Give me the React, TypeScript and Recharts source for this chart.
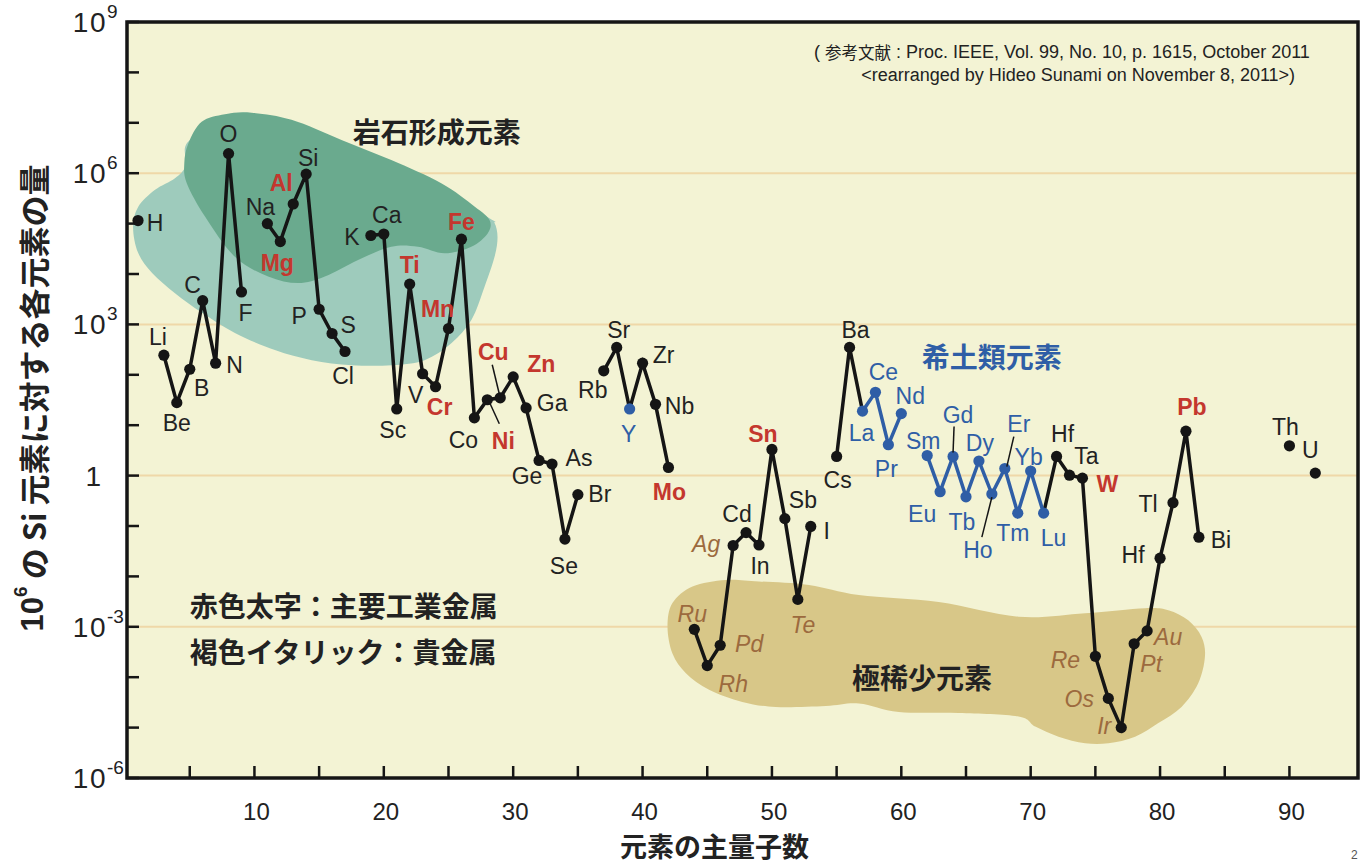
import React from 'react'
import { ComposedChart, Line, Scatter, XAxis, YAxis, ReferenceArea, Label } from 'recharts'

// element symbols as printed on the chart (Z=80 is printed "Hf" in the original)
const symbols = [
  'H', 'Li', 'Be', 'B', 'C', 'N', 'O', 'F',
  'Na', 'Mg', 'Al', 'Si', 'P', 'S', 'Cl',
  'K', 'Ca', 'Sc', 'Ti', 'V', 'Cr', 'Mn', 'Fe', 'Co', 'Ni', 'Cu', 'Zn', 'Ga', 'Ge', 'As', 'Se', 'Br',
  'Rb', 'Sr', 'Y', 'Zr', 'Nb', 'Mo',
  'Ru', 'Rh', 'Pd', 'Ag', 'Cd', 'In', 'Sn', 'Sb', 'Te', 'I',
  'Cs', 'Ba', 'La', 'Ce', 'Pr', 'Nd',
  'Sm', 'Eu', 'Gd', 'Tb', 'Dy', 'Ho', 'Er', 'Tm', 'Yb', 'Lu',
  'Hf', 'Ta', 'W', 'Re', 'Os', 'Ir', 'Pt', 'Au', 'Hf', 'Tl', 'Pb', 'Bi',
  'Th', 'U',
]

const atomicNumbers = [
  1, 3, 4, 5, 6, 7, 8, 9,
  11, 12, 13, 14, 15, 16, 17,
  19, 20, 21, 22, 23, 24, 25, 26, 27, 28, 29, 30, 31, 32, 33, 34, 35,
  37, 38, 39, 40, 41, 42,
  44, 45, 46, 47, 48, 49, 50, 51, 52, 53,
  55, 56, 57, 58, 59, 60,
  62, 63, 64, 65, 66, 67, 68, 69, 70, 71,
  72, 73, 74, 75, 76, 77, 78, 79, 80, 81, 82, 83,
  90, 92,
]

// atoms per 10^6 Si atoms
const abundance = [
  1.15e5, 245, 28, 129, 2950, 170, 2.45e6, 4400,
  1.0e5, 4.4e4, 2.45e5, 9.6e5, 2000, 660, 290,
  5.8e4, 6.2e4, 21, 6300, 105, 58, 830, 4.9e4, 14, 32, 35, 91, 22, 2.0, 1.7, 0.055, 0.42,
  120, 350, 21, 170, 26, 1.45,
  8.9e-4, 1.7e-4, 4.3e-4, 0.041, 0.074, 0.042, 3.3, 0.14, 3.5e-3, 0.098,
  2.4, 350, 19, 45, 4.1, 17,
  2.5, 0.48, 2.4, 0.38, 1.95, 0.43, 1.38, 0.18, 1.23, 0.18,
  2.4, 1.02, 0.89, 2.6e-4, 3.8e-5, 1.0e-5, 4.6e-4, 8.3e-4, 0.023, 0.29, 7.6, 0.06,
  3.9, 1.12,
]

const industrialMetals = ['Mg', 'Al', 'Ti', 'Cr', 'Mn', 'Fe', 'Ni', 'Cu', 'Zn', 'Mo', 'Sn', 'W', 'Pb']
const preciousMetals = ['Ru', 'Rh', 'Pd', 'Ag', 'Te', 'Re', 'Os', 'Ir', 'Pt', 'Au']
const rareEarths = ['Y', 'La', 'Ce', 'Pr', 'Nd', 'Sm', 'Eu', 'Gd', 'Tb', 'Dy', 'Ho', 'Er', 'Tm', 'Yb', 'Lu']

const xTicks = [5, 10, 15, 20, 25, 30, 35, 40, 45, 50, 55, 60, 65, 70, 75, 80, 85, 90]
const yTicks = [1e-6, 1e-5, 1e-4, 1e-3, 1e-2, 1e-1, 1, 10, 100, 1e3, 1e4, 1e5, 1e6, 1e7, 1e8, 1e9]

const X_MIN = 0.15
const X_MAX = 95.3
const LOG_MIN = -6
const LOG_MAX = 9

// label position around each dot (px), keyed by atomic number
const labelOffsets: Record<number, [number, number]> = {
  1: [17, 2], 3: [-6, -18], 4: [0, 20], 5: [12, 18], 6: [-10, -16], 7: [19, 2], 8: [0, -20], 9: [4, 21],
  11: [-7, -17], 12: [-3, 21], 13: [-12, -21], 14: [2, -16], 15: [-20, 6], 16: [16, -9], 17: [-2, 24],
  19: [-19, 1], 20: [3, -19], 21: [-4, 21], 22: [0, -19], 23: [-7, 21], 24: [4, 20], 25: [-11, -20],
  26: [0, -17], 27: [-11, 22], 28: [16, 41], 29: [-7, -46], 30: [28, -13], 31: [26, -5], 32: [-12, 15],
  33: [27, -6], 34: [-1, 27], 35: [22, -1],
  37: [-11, 19], 38: [2, -18], 39: [-1, 25], 40: [21, -8], 41: [24, 1], 42: [1, 24],
  44: [-2, -16], 45: [26, 18], 46: [29, -2], 47: [-27, -2], 48: [-9, -19], 49: [1, 21], 50: [-9, -16],
  51: [18, -19], 52: [5, 25], 53: [16, 4],
  55: [1, 23], 56: [6, -18], 57: [-1, 22], 58: [8, -21], 59: [-2, 24], 60: [9, -18],
  62: [-4, -15], 63: [-18, 22], 64: [5, -42], 65: [-4, 25], 66: [1, -18], 67: [-14, 56], 68: [14, -45],
  69: [-5, 20], 70: [-2, -14], 71: [10, 25],
  72: [6, -23], 73: [17, -19], 74: [25, 6], 75: [-30, 3], 76: [-29, 0], 77: [-17, -2], 78: [17, 20],
  79: [21, 6], 80: [-27, -3], 81: [-25, 1], 82: [6, -24], 83: [22, 3],
  90: [-4, -19], 92: [-5, -23],
}

// thin leader lines from dot toward label
const leaders: Record<number, [number, number, number, number]> = {
  28: [1, 0, 12, 24],
  29: [-1, -4, -8, -33],
  64: [0, -4, 1, -30],
  67: [0, 3, -10, 43],
  68: [2, -2, 9, -32],
}

// shaded group outlines, [atomic number, log10 abundance]
const rockOuter = [
  [4.55, 6.16], [3.7, 5.9], [2.16, 5.67], [0.85, 5.33], [0.46, 4.93], [0.85, 4.42], [1.93, 4.02],
  [3.7, 3.62], [5.79, 3.23], [8.33, 2.83], [11.42, 2.49], [14.27, 2.29], [17.36, 2.19], [20.45, 2.19],
  [22.99, 2.29], [25.08, 2.63], [26.62, 3.09], [27.62, 3.74], [28.4, 4.34], [28.63, 4.73], [28.4, 5.01],
  [27.85, 5.13], [21.06, 6.16], [9.49, 7.19], [4.86, 6.66],
]
const rockCore = [
  [4.42, 6.2], [4.73, 6.59], [5.76, 7.02], [7.56, 7.17], [9.62, 7.2], [12.71, 7.06], [16.57, 6.66],
  [20.42, 6.26], [24.28, 5.8], [26.85, 5.34], [28.01, 5.07], [27.88, 4.81], [26.6, 4.54], [24.54, 4.41],
  [22.48, 4.54], [20.42, 4.54], [17.85, 4.28], [15.28, 3.95], [13.22, 3.82], [10.9, 3.95], [8.33, 4.34],
  [6.02, 5.14], [4.61, 5.8],
]
const rareBlob = [
  [41.77, -3.0], [42.15, -2.53], [43.7, -2.2], [46.27, -2.07], [48.84, -2.1], [52.7, -2.17], [56.56, -2.37],
  [62.73, -2.51], [68.9, -2.8], [74.05, -2.73], [78.68, -2.63], [80.48, -2.67], [82.02, -2.87],
  [83.05, -3.2], [83.31, -3.59], [82.79, -4.12], [81.5, -4.59], [79.71, -4.91], [77.91, -5.18],
  [75.85, -5.31], [74.05, -5.31], [71.99, -5.18], [70.19, -4.98], [68.9, -4.78], [64.27, -4.71],
  [59.65, -4.69], [56.56, -4.52], [53.99, -4.57], [50.13, -4.59], [47.55, -4.49], [44.98, -4.25],
  [43.19, -3.92], [42.15, -3.53],
]

const LATIN = "'Liberation Sans', Arial, sans-serif"
const CJK = "'Noto Sans CJK JP', 'Liberation Sans', sans-serif"
const BLUE = '#2f5ea6'
const RED = '#c4372e'
const BROWN = '#9c6a3e'
const INK = '#151515'

const points = symbols.map((s, i) => ({ z: atomicNumbers[i], symbol: s, value: abundance[i] }))

// one row per Z so that missing elements break the lines
const rows = Array.from({ length: 92 }, (_, i) => {
  const z = i + 1
  const p = points.find((q) => q.z === z)
  const v = p ? p.value : null
  return {
    z,
    black: v !== null && (z <= 57 || z >= 71) ? v : null,
    blue: v !== null && z >= 57 && z <= 71 ? v : null,
  }
})

function smoothClosed(pts: number[][]) {
  const n = pts.length
  let d = `M${pts[0][0]},${pts[0][1]}`
  for (let i = 0; i < n; i++) {
    const p0 = pts[(i - 1 + n) % n]
    const p1 = pts[i]
    const p2 = pts[(i + 1) % n]
    const p3 = pts[(i + 2) % n]
    const c1x = p1[0] + (p2[0] - p0[0]) / 6
    const c1y = p1[1] + (p2[1] - p0[1]) / 6
    const c2x = p2[0] - (p3[0] - p1[0]) / 6
    const c2y = p2[1] - (p3[1] - p1[1]) / 6
    d += ` C${c1x},${c1y} ${c2x},${c2y} ${p2[0]},${p2[1]}`
  }
  return d + 'Z'
}

function PlotDecor(props: any) {
  const { x, y, width, height } = props
  const px = (z: number) => x + ((z - X_MIN) / (X_MAX - X_MIN)) * width
  const py = (l: number) => y + ((LOG_MAX - l) / (LOG_MAX - LOG_MIN)) * height
  const outline = (pts: number[][]) => smoothClosed(pts.map(([z, l]) => [px(z + 0.16), py(l)]))
  return (
    <g>
      <rect x={x} y={y} width={width} height={height} fill="#f3f3d4" />
      {[6, 3, 0, -3].map((l) => (
        <line key={l} x1={x} x2={x + width} y1={py(l)} y2={py(l)} stroke="#efd8a8" strokeWidth={2} />
      ))}
      <path d={outline(rockOuter)} fill="#9ecbbc" />
      <path d={outline(rockCore)} fill="#6aaa8e" />
      <path d={outline(rareBlob)} fill="#d8c788" />

      <text x={px(24.1)} y={py(6.84)} textAnchor="middle" dominantBaseline="central"
        fontFamily={CJK} fontWeight={700} fontSize={28} fill="#222">岩石形成元素</text>
      <text x={px(67.0)} y={py(2.37)} textAnchor="middle" dominantBaseline="central"
        fontFamily={CJK} fontWeight={700} fontSize={28} fill={BLUE}>希土類元素</text>
      <text x={px(61.6)} y={py(-4.0)} textAnchor="middle" dominantBaseline="central"
        fontFamily={CJK} fontWeight={700} fontSize={28} fill="#222">極稀少元素</text>

      <text x={px(5.0)} y={py(-2.57)} dominantBaseline="central"
        fontFamily={CJK} fontWeight={700} fontSize={28} fill="#222">赤色太字：主要工業金属</text>
      <text x={px(5.0)} y={py(-3.48)} dominantBaseline="central"
        fontFamily={CJK} fontWeight={700} fontSize={28} fill="#222">褐色イタリック：貴金属</text>

      <text x={px(53.25)} y={py(8.4)} dominantBaseline="central" fontFamily={LATIN} fontSize={18} fill="#222">
        <tspan>( </tspan>
        <tspan fontFamily={CJK} fontSize={16.5}>参考文献</tspan>
        <tspan> : Proc. IEEE, Vol. 99, No. 10, p. 1615, October 2011</tspan>
      </text>
      <text x={px(56.9)} y={py(7.95)} dominantBaseline="central"
        fontFamily={LATIN} fontSize={18} fill="#222">{'<rearranged by Hideo Sunami on November 8, 2011>)'}</text>
    </g>
  )
}

function PlotFrame(props: any) {
  const { x, y, width, height } = props
  return <rect x={x} y={y} width={width} height={height} fill="none" stroke={INK} strokeWidth={3.5} />
}

function ElementDot(props: any) {
  const { cx, cy, payload } = props
  if (cx == null || cy == null) return null
  const sym: string = payload.symbol
  const z: number = payload.z
  const [dx, dy] = labelOffsets[z] ?? [0, -18]
  const rare = rareEarths.includes(sym)
  const industrial = industrialMetals.includes(sym)
  const precious = preciousMetals.includes(sym)
  const fill = rare ? BLUE : industrial ? RED : precious ? BROWN : '#222'
  const lead = leaders[z]
  return (
    <g>
      <circle cx={cx} cy={cy} r={5.6} fill={rare ? BLUE : INK} />
      {lead && (
        <line x1={cx + lead[0]} y1={cy + lead[1]} x2={cx + lead[2]} y2={cy + lead[3]} stroke={INK} strokeWidth={1.5} />
      )}
      <text
        x={cx + dx}
        y={cy + dy}
        dy="0.36em"
        textAnchor="middle"
        fontFamily={LATIN}
        fontSize={23}
        fontWeight={industrial ? 700 : 400}
        fontStyle={precious ? 'italic' : 'normal'}
        fill={fill}
      >
        {sym}
      </text>
    </g>
  )
}

function YTick(props: any) {
  const { x, y, payload } = props
  const e = Math.round(Math.log10(payload.value))
  return (
    <g>
      <line x1={x} x2={x + 12} y1={y} y2={y} stroke={INK} strokeWidth={2.5} />
      {e % 3 === 0 && e === 0 && (
        <text x={x - 26} y={y + 10} textAnchor="end" fontFamily={LATIN} fontSize={28} fill="#222">1</text>
      )}
      {e % 3 === 0 && e !== 0 && (
        <g>
          <text x={x - 20} y={y + 10} textAnchor="end" fontFamily={LATIN} fontSize={28} letterSpacing={1.5} fill="#222">10</text>
          <text x={x - 20} y={y - 4} fontFamily={LATIN} fontSize={19} fill="#222">{e < 0 ? `-${-e}` : `${e}`}</text>
        </g>
      )}
    </g>
  )
}

function XTick(props: any) {
  const { x, y, payload } = props
  return (
    <g>
      <line x1={x} x2={x} y1={y} y2={y - 12} stroke={INK} strokeWidth={2.5} />
      {payload.value % 10 === 0 && (
        <text x={x + 2} y={y + 42} textAnchor="middle" fontFamily="'Liberation Sans Narrow', 'Liberation Sans', sans-serif"
          fontSize={24} fill="#222">{payload.value}</text>
      )}
    </g>
  )
}

function YTitle(p: any) {
  const vb = p.viewBox ?? { x: 0, y: 22, width: 127, height: 756 }
  const cx = vb.x + 32
  const cy = vb.y + vb.height / 2 - 2
  return (
    <text x={cx} y={cy} transform={`rotate(-90, ${cx}, ${cy})`} textAnchor="middle" dominantBaseline="central"
      fontFamily={CJK} fontWeight={700} fontSize={31} fill="#222">
      <tspan fontFamily={LATIN}>10</tspan>
      <tspan fontFamily={LATIN} fontSize={19} dy={-12}>6</tspan>
      <tspan dy={12}> の Si 元素に対する各元素の量</tspan>
    </text>
  )
}

function XTitle(p: any) {
  const vb = p.viewBox ?? { x: 127, y: 778, width: 1231, height: 85 }
  return (
    <g>
      <text x={vb.x + vb.width / 2 - 28} y={vb.y + 67} textAnchor="middle" dominantBaseline="central"
        fontFamily={CJK} fontWeight={700} fontSize={27} fill="#222">元素の主量子数</text>
      <text x={1351} y={859} fontFamily={LATIN} fontSize={12} fill="#555">2</text>
    </g>
  )
}

export default function App() {
  return (
    <div style={{ position: 'absolute', left: 0, top: 0, width: 1365, height: 863, background: '#fff' }}>
      <ComposedChart
        width={1365}
        height={863}
        data={rows}
        margin={{ top: 22, right: 7, bottom: 0, left: 0 }}
      >
        <ReferenceArea x1={X_MIN} x2={X_MAX} y1={1e-6} y2={1e9} ifOverflow="visible" shape={(p: any) => <PlotDecor {...p} />} />
        <XAxis
          type="number"
          dataKey="z"
          domain={[X_MIN, X_MAX]}
          ticks={xTicks}
          interval={0}
          allowDataOverflow
          axisLine={false}
          tickLine={false}
          tickSize={0}
          tickMargin={0}
          height={85}
          tick={(p: any) => <XTick {...p} />}
        >
          <Label content={(p: any) => <XTitle {...p} />} />
        </XAxis>
        <YAxis
          type="number"
          scale="log"
          domain={[1e-6, 1e9]}
          ticks={yTicks}
          interval={0}
          allowDataOverflow
          axisLine={false}
          tickLine={false}
          tickSize={0}
          tickMargin={0}
          width={127}
          tick={(p: any) => <YTick {...p} />}
        >
          <Label content={(p: any) => <YTitle {...p} />} />
        </YAxis>
        <Line dataKey="black" stroke={INK} strokeWidth={3.5} dot={false} activeDot={false}
          connectNulls={false} isAnimationActive={false} />
        <Line dataKey="blue" stroke={BLUE} strokeWidth={3.5} dot={false} activeDot={false}
          connectNulls={false} isAnimationActive={false} />
        <Scatter data={points} dataKey="value" isAnimationActive={false} shape={(p: any) => <ElementDot {...p} />} />
        <ReferenceArea x1={X_MIN} x2={X_MAX} y1={1e-6} y2={1e9} ifOverflow="visible" shape={(p: any) => <PlotFrame {...p} />} />
      </ComposedChart>
    </div>
  )
}
